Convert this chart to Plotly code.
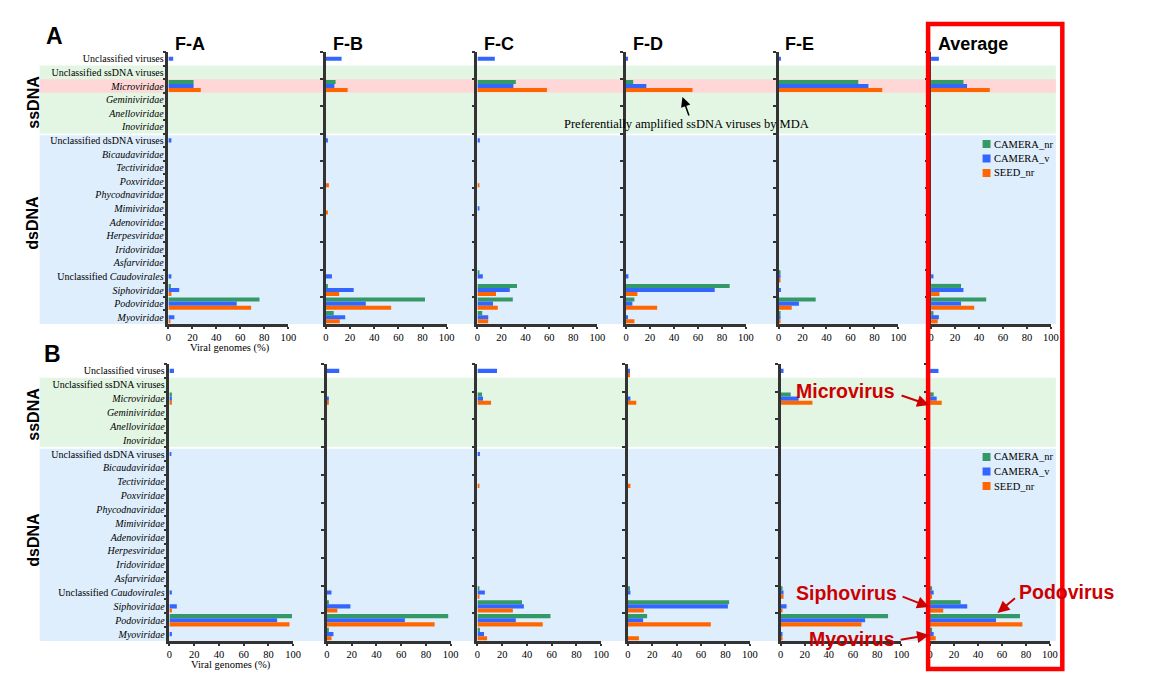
import plotly.graph_objects as go

W, H = 1155, 695

categories = [
    "Unclassified viruses", "Unclassified ssDNA viruses", "<i>Microviridae</i>",
    "<i>Geminiviridae</i>", "<i>Anelloviridae</i>", "<i>Inoviridae</i>",
    "Unclassified dsDNA viruses", "<i>Bicaudaviridae</i>", "<i>Tectiviridae</i>",
    "<i>Poxviridae</i>", "<i>Phycodnaviridae</i>", "<i>Mimiviridae</i>",
    "<i>Adenoviridae</i>", "<i>Herpesviridae</i>", "<i>Iridoviridae</i>",
    "<i>Asfarviridae</i>", "Unclassified <i>Caudovirales</i>", "<i>Siphoviridae</i>",
    "<i>Podoviridae</i>", "<i>Myoviridae</i>",
]
series_names = ["CAMERA_nr", "CAMERA_v", "SEED_nr"]
series_colors = ["#339966", "#3366ff", "#ff6600"]
subplot_titles = ["F-A", "F-B", "F-C", "F-D", "F-E", "Average"]
x_ticks = [0, 20, 40, 60, 80, 100]

# ---------------- Panel A (values in % of viral genomes) ----------------
#            UnV UsD Mic Gem Ane Ino UdD Bic Tec Pox Phy Mim Ade Her Iri Asf UCa Sip Pod Myo
A_FA_nr   = [0,  0,  21, 0,  0,  0,  0,  0,  0,  0,  0,  0,  0,  0,  0,  0,  0,  2,  76, 0]
A_FA_v    = [4,  0,  21, 0,  0,  0,  2.5, 0, 0,  0,  0,  0,  0,  0,  0,  0,  2.5, 9, 57, 5]
A_FA_seed = [0,  0,  27, 0,  0,  0,  0,  0,  0,  0,  0,  0,  0,  0,  0,  0,  0,  2.5, 69, 1.5]

A_FB_nr   = [0,  0,  8,  0,  0,  0,  0,  0,  0,  0,  0,  0,  0,  0,  0,  0,  0,  1.5, 82, 6.5]
A_FB_v    = [13, 0,  7,  0,  0,  0,  1.5, 0, 0,  0,  0,  0,  0,  0,  0,  0,  5,  23, 33, 16]
A_FB_seed = [0,  0,  18, 0,  0,  0,  0,  0,  0,  2.5, 0, 1.5, 0, 0,  0,  0,  0,  11, 54, 11.5]

A_FC_nr   = [0,  0,  32, 0,  0,  0,  0,  0,  0,  0,  0,  0,  0,  0,  0,  0,  1.2, 33, 29.5, 4]
A_FC_v    = [14.5, 0, 30, 0, 0,  0,  2,  0,  0,  0,  0,  1.3, 0, 0,  0,  0,  4.5, 27, 13, 9]
A_FC_seed = [0,  0,  58, 0,  0,  0,  0,  0,  0,  1.4, 0, 0,  0,  0,  0,  0,  0,  15.5, 17, 9]

A_FD_nr   = [0,  0,  6,  0,  0,  0,  0,  0,  0,  0,  0,  0,  0,  0,  0,  0,  0,  86.5, 7, 0]
A_FD_v    = [1,  0,  17, 0,  0,  0,  0,  0,  0,  0,  0,  0,  0,  0,  0,  0,  2,  74, 5.3, 1]
A_FD_seed = [0,  0,  55.5, 0, 0, 0,  0,  0,  0,  0,  0,  0,  0,  0,  0,  0,  0,  9.5, 26, 7]

A_FE_nr   = [0,  0,  66.5, 0, 0, 0,  0,  0,  0,  0,  0,  0,  0,  0,  0,  0,  1,  0,  31, 1]
A_FE_v    = [2,  0,  75, 0,  0,  0,  0,  0,  0,  0,  0,  0,  0,  0,  0,  0,  1,  2,  17, 1]
A_FE_seed = [0,  0,  86.5, 0, 0, 0,  0,  0,  0,  0,  0,  0,  0,  0,  0,  0,  1,  0,  11, 1]

A_AV_nr   = [0,  0,  27, 0,  0,  0,  0,  0,  0,  0,  0,  0,  0,  0,  0,  0,  0,  25, 46, 2]
A_AV_v    = [6.5, 0, 30, 0,  0,  0,  0,  0,  0,  0,  0,  0,  0,  0,  0,  0,  2,  27, 25, 6.5]
A_AV_seed = [0,  0,  49, 0,  0,  0,  0,  0,  0,  0,  0,  0,  0,  0,  0,  0,  0,  7,  36, 5.5]

# ---------------- Panel B ----------------
B_FA_nr   = [0,  0,  2,  0,  0,  0,  0,  0,  0,  0,  0,  0,  0,  0,  0,  0,  0,  0,  99, 0]
B_FA_v    = [3.7, 0, 2,  0,  0,  0,  1.3, 0, 0,  0,  0,  0,  0,  0,  0,  0,  2,  6,  87, 2]
B_FA_seed = [0,  0,  2,  0,  0,  0,  0,  0,  0,  0,  0,  0,  0,  0,  0,  0,  0,  2,  97, 0]

B_FB_nr   = [0,  0,  0,  0,  0,  0,  0,  0,  0,  0,  0,  0,  0,  0,  0,  0,  0,  1.3, 98, 1.3]
B_FB_v    = [10, 0,  1.3, 0, 0,  0,  0,  0,  0,  0,  0,  0,  0,  0,  0,  0,  3.7, 19, 63, 5.3]
B_FB_seed = [0,  0,  1.3, 0, 0,  0,  0,  0,  0,  0,  0,  0,  0,  0,  0,  0,  0,  8.5, 87, 3.7]

B_FC_nr   = [0,  0,  3.7, 0, 0,  0,  0,  0,  0,  0,  0,  0,  0,  0,  0,  0,  1.3, 36, 59, 2]
B_FC_v    = [15.8, 0, 4.5, 0, 0, 0,  2,  0,  0,  0,  0,  0,  0,  0,  0,  0,  6,  37.5, 31, 5.3]
B_FC_seed = [0,  0,  11, 0,  0,  0,  0,  0,  1.3, 0, 0,  0,  0,  0,  0,  0,  1.3, 28.6, 52.7, 7.8]

B_FD_nr   = [0,  0,  0,  0,  0,  0,  0,  0,  0,  0,  0,  0,  0,  0,  0,  0,  1,  83, 15.7, 0]
B_FD_v    = [1,  0,  2,  0,  0,  0,  0,  0,  0,  0,  0,  0,  0,  0,  0,  0,  2,  82, 12.4, 0]
B_FD_seed = [1,  0,  6.8, 0, 0,  0,  0,  0,  2,  0,  0,  0,  0,  0,  0,  0,  0,  13, 68, 9]

B_FE_nr   = [0,  0,  8.4, 0, 0,  0,  0,  0,  0,  0,  0,  0,  0,  0,  0,  0,  1,  0,  89, 0]
B_FE_v    = [2.5, 0, 15, 0,  0,  0,  0,  0,  0,  0,  0,  0,  0,  0,  0,  0,  2.5, 5, 70, 1.6]
B_FE_seed = [0,  0,  26.4, 0, 0, 0,  0,  0,  0,  0,  0,  0,  0,  0,  0,  0,  2.5, 1.6, 67, 1]

B_AV_nr   = [0,  0,  3,  0,  0,  0,  0,  0,  0,  0,  0,  0,  0,  0,  0,  0,  1.4, 25.5, 75, 1.4]
B_AV_v    = [7,  0,  5.5, 0, 0,  0,  0,  0,  0,  0,  0,  0,  0,  0,  0,  0,  3,  31, 55, 3]
B_AV_seed = [0,  0,  9.7, 0, 0,  0,  0,  0,  0,  0,  0,  0,  0,  0,  0,  0,  1,  11, 77, 4.7]

panel_A = [
    [A_FA_nr, A_FA_v, A_FA_seed], [A_FB_nr, A_FB_v, A_FB_seed],
    [A_FC_nr, A_FC_v, A_FC_seed], [A_FD_nr, A_FD_v, A_FD_seed],
    [A_FE_nr, A_FE_v, A_FE_seed], [A_AV_nr, A_AV_v, A_AV_seed],
]
panel_B = [
    [B_FA_nr, B_FA_v, B_FA_seed], [B_FB_nr, B_FB_v, B_FB_seed],
    [B_FC_nr, B_FC_v, B_FC_seed], [B_FD_nr, B_FD_v, B_FD_seed],
    [B_FE_nr, B_FE_v, B_FE_seed], [B_AV_nr, B_AV_v, B_AV_seed],
]


def px(x):
    return x / W


def py(y):
    return 1 - y / H


SERIF = "Liberation Serif"
SANS = "Liberation Sans"
AXC = "#333333"

# layout geometry (pixels)
panels = [
    dict(label="A", data=panel_A, top=52, bottom=324,
         lefts=[167, 326, 479, 629, 783, 937], widths=[121, 122, 121, 121, 121, 121],
         legend_top=138),
    dict(label="B", data=panel_B, top=364, bottom=641,
         lefts=[168, 327, 479, 631, 785, 936], widths=[125, 125, 125, 123, 122, 121],
         legend_top=451),
]

fig = go.Figure()
layout = {}
shapes = []
annotations = []


def text(t, x, y, size, family=SERIF, color="black", xanchor="center", angle=0):
    return dict(text=t, x=px(x), y=py(y), xref="paper", yref="paper", xanchor=xanchor,
                yanchor="middle", showarrow=False, textangle=angle,
                font=dict(family=family, size=size, color=color))


k = 0
for p, panel in enumerate(panels):
    for s in range(6):
        k += 1
        xname = "x" if k == 1 else f"x{k}"
        yname = "y" if k == 1 else f"y{k}"
        for j in range(3):
            fig.add_trace(go.Bar(
                y=categories, x=panel["data"][s][j], orientation="h",
                name=series_names[j], marker=dict(color=series_colors[j], line=dict(width=0)),
                xaxis=xname, yaxis=yname, showlegend=False, hoverinfo="x+y+name",
            ))
        left = panel["lefts"][s]
        right = left + panel["widths"][s]
        layout["xaxis" if k == 1 else f"xaxis{k}"] = dict(
            domain=[px(left), px(right)], range=[0, 100], anchor=yname,
            tickvals=x_ticks, ticks="outside", ticklen=2, tickwidth=2, tickcolor=AXC,
            showline=True, linecolor=AXC, linewidth=2.5, showgrid=False, zeroline=False,
            tickfont=dict(family=SERIF, size=10.5, color="black"), fixedrange=True,
        )
        layout["yaxis" if k == 1 else f"yaxis{k}"] = dict(
            domain=[py(panel["bottom"]), py(panel["top"])], anchor=xname,
            type="category", categoryorder="array", categoryarray=categories,
            range=[19.5, -0.5], showline=True, linecolor=AXC, linewidth=2.5,
            ticks="outside", tickson="boundaries", ticklen=3, tickwidth=2, tickcolor=AXC,
            showticklabels=(s == 0), showgrid=False, zeroline=False,
            tickfont=dict(family=SERIF, size=10, color="black"), fixedrange=True,
        )
        if p == 0:
            annotations.append(text(f"<b>{subplot_titles[s]}</b>", left + 5, 44, 18,
                                    family=SANS, xanchor="left"))
        if s == 0:
            annotations.append(text("Viral genomes (%)", left + 62, panel["bottom"] + 24, 10.5))

    yref = "y" if p == 0 else "y7"
    shapes.append(dict(type="rect", xref="paper", yref=yref, x0=px(37), x1=px(1063),
                       y0=0.5, y1=5.5, fillcolor="#e3f6e3", line=dict(width=0), layer="below"))
    if p == 0:
        shapes.append(dict(type="rect", xref="paper", yref=yref, x0=px(37), x1=px(1063),
                           y0=1.5, y1=2.5, fillcolor="#ffd7d7", line=dict(width=0), layer="below"))
    shapes.append(dict(type="rect", xref="paper", yref=yref, x0=px(37), x1=px(1063),
                       y0=5.62, y1=19.5, fillcolor="#deeefc", line=dict(width=0), layer="below"))

    # legend (drawn as keys + labels)
    for j in range(3):
        cy = panel["legend_top"] + 6 + j * 14.5
        shapes.append(dict(type="rect", xref="paper", yref="paper",
                           x0=px(989), x1=px(997), y0=py(cy - 4), y1=py(cy + 4),
                           fillcolor=series_colors[j], line=dict(width=0)))
        annotations.append(text(series_names[j], 999, cy, 10.5, xanchor="left"))

# panel letters and group labels
annotations += [
    text("<b>A</b>", 52, 36, 23, family=SANS),
    text("<b>B</b>", 50, 354, 23, family=SANS),
]
for yc, t in [(102, "ssDNA"), (223, "dsDNA"), (414, "ssDNA"), (540, "dsDNA")]:
    annotations.append(text(f"<b>{t}</b>", 30, yc, 16, family=SANS, angle=-90))

# MDA note
annotations += [
    text("Preferentially amplified ssDNA viruses by MDA", 690, 124, 12.5),
    dict(text="", x=px(686), y=py(97), xref="paper", yref="paper", showarrow=True,
         ax=7, ay=20, arrowhead=2, arrowsize=1.3, arrowwidth=1.5, arrowcolor="black"),
]

# red callouts
RED = "#cc0000"
for t, cx, cy in [("Microvirus", 851, 391), ("Siphovirus", 852, 593),
                  ("Myovirus", 857, 639), ("Podovirus", 1074, 592)]:
    annotations.append(text(f"<b>{t}</b>", cx, cy, 19.5, family=SANS, color=RED))
for tip, tail in [((935, 405), (906, 395)), ((935, 607), (907, 596)),
                  ((935, 635), (905, 640)), ((1004, 613), (1023, 597))]:
    annotations.append(dict(text="", x=px(tip[0]), y=py(tip[1]), xref="paper", yref="paper",
                            showarrow=True, ax=tail[0] - tip[0], ay=tail[1] - tip[1],
                            arrowhead=2, arrowsize=1.2, arrowwidth=2, arrowcolor=RED))

# red frame around the Average column
shapes.append(dict(type="rect", xref="paper", yref="paper", x0=px(934), x1=px(1069.5),
                   y0=py(24), y1=py(669), line=dict(color="#ff0000", width=4.5),
                   fillcolor="rgba(0,0,0,0)", layer="above"))

fig.update_layout(
    **layout,
    width=W, height=H, autosize=False, margin=dict(l=0, r=0, t=0, b=0),
    paper_bgcolor="white", plot_bgcolor="rgba(0,0,0,0)",
    barmode="group", bargap=0.1, bargroupgap=0, showlegend=False,
    font=dict(family=SERIF, size=11, color="black"),
    shapes=shapes, annotations=annotations,
)

fig.write_html(
    "out.html",
    config={"displayModeBar": False, "responsive": False},
    post_script=(
        "document.documentElement.style.margin='0px';"
        "document.documentElement.style.overflow='hidden';"
        "document.body.style.margin='0px';"
        "document.body.style.overflow='hidden';"
    ),
)
